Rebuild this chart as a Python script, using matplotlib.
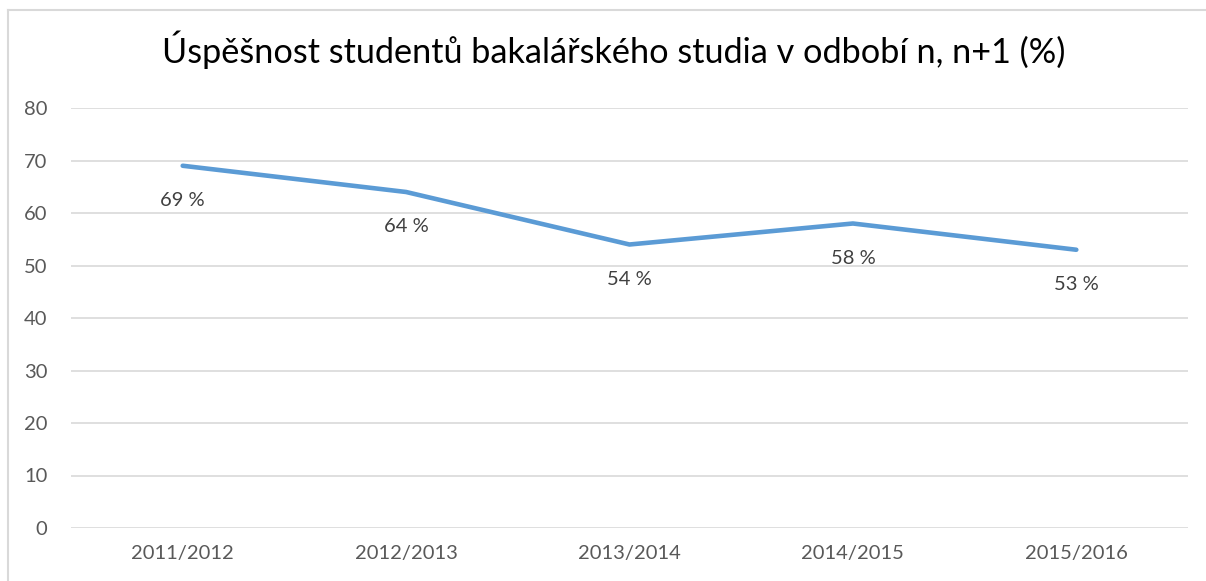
import matplotlib
matplotlib.use("Agg")
import matplotlib.pyplot as plt
from matplotlib.lines import Line2D

plt.rcParams['font.family'] = ['Lato', 'DejaVu Sans']

years = ['2011/2012', '2012/2013', '2013/2014', '2014/2015', '2015/2016']
success = [69, 64, 54, 58, 53]
yticks = [0, 10, 20, 30, 40, 50, 60, 70, 80]
title = 'Úspěšnost studentů bakalářského studia v odbobí n, n+1 (%)'

W, H = 1206, 581
fig = plt.figure(figsize=(W / 100, H / 100), dpi=100)
ax = fig.add_axes([71 / W, 1 - 528 / H, (1188 - 71) / W, (528 - 108) / H])

x = list(range(len(years)))
ax.plot(x, success, color='#5B9BD5', lw=3.3, solid_capstyle='round',
        solid_joinstyle='round', zorder=3)

for xi, v in zip(x, success):
  ax.annotate('%d %%' % v, (xi, v), xytext=(0, -25), textcoords='offset points',
              ha='center', va='center', fontsize=14.5, color='#404040')

ax.set_xlim(-0.5, len(years) - 0.5)
ax.set_ylim(0, 80)
ax.set_yticks(yticks)
ax.set_xticks(x)
ax.set_xticklabels(years)
ax.grid(axis='y', color='#D9D9D9', lw=1.2)
ax.set_axisbelow(True)
for s in ax.spines.values():
  s.set_visible(False)
ax.tick_params(axis='both', length=0, labelsize=14.5, labelcolor='#595959')
ax.tick_params(axis='y', pad=17)
ax.tick_params(axis='x', pad=12)

fig.text(614 / W, 1 - 50 / H, title, ha='center', va='center',
         fontsize=24.7, color='#000000')

# chart border (only left and top edges visible)
fig.add_artist(Line2D([7.5 / W, 7.5 / W], [0, 1 - 9.5 / H], color='#D9D9D9', lw=1.5))
fig.add_artist(Line2D([7.5 / W, 1], [1 - 9.5 / H, 1 - 9.5 / H], color='#D9D9D9', lw=1.5))

fig.savefig('out.png', dpi=100)
